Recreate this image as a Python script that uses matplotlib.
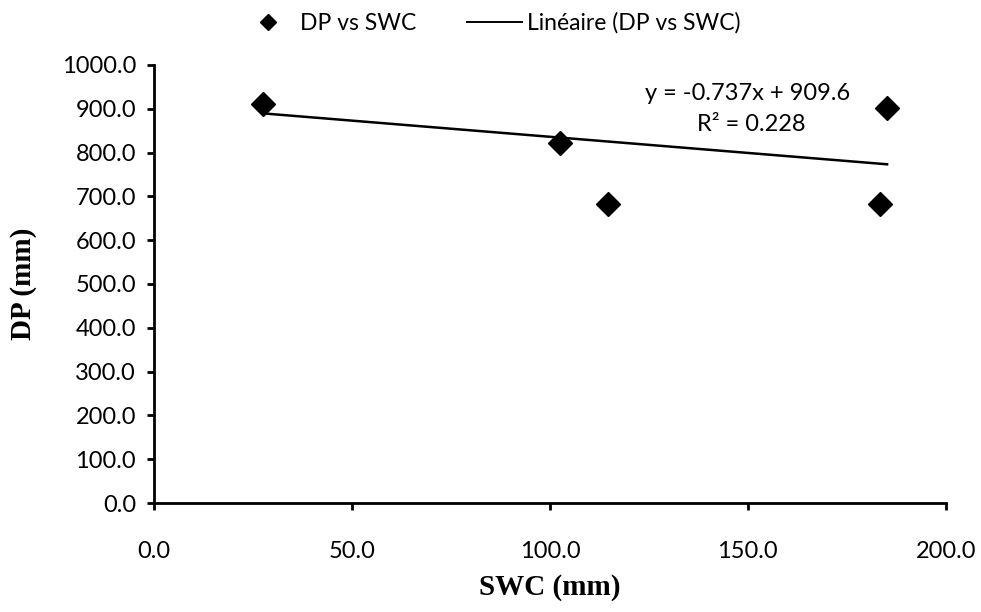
import numpy as np
import matplotlib.pyplot as plt
from matplotlib.lines import Line2D

# SWC vs DP observations
swc_mm = [27.5, 102.5, 114.6, 185.2, 183.5]
dp_mm = [911.0, 822.0, 683.0, 902.0, 683.0]

# linear trend as reported
slope = -0.737
intercept = 909.6
r2 = 0.228

x_ticks = [0, 50, 100, 150, 200]
y_ticks = [0, 100, 200, 300, 400, 500, 600, 700, 800, 900, 1000]

sans = ["Lato", "DejaVu Sans"]
serif = ["Liberation Serif", "DejaVu Serif"]

fig = plt.figure(figsize=(9.81, 6.12), dpi=100)
ax = fig.add_axes([0.157, 0.178, 0.807, 0.716])

ax.plot(swc_mm, dp_mm, linestyle="none", marker="D", markersize=12,
        color="black", zorder=3)

xs = np.array([min(swc_mm), max(swc_mm)])
ax.plot(xs, slope * xs + intercept, color="black", linewidth=1.8, zorder=2)

ax.set_xlim(0, 200)
ax.set_ylim(0, 1000)
ax.set_xticks(x_ticks)
ax.set_yticks(y_ticks)
ax.set_xticklabels([f"{v:.1f}" for v in x_ticks], fontfamily=sans, fontsize=17)
ax.set_yticklabels([f"{v:.1f}" for v in y_ticks], fontfamily=sans, fontsize=17)

for side in ("top", "right"):
    ax.spines[side].set_visible(False)
for side in ("left", "bottom"):
    ax.spines[side].set_linewidth(2)
ax.tick_params(axis="y", direction="out", length=5, width=2, pad=8)
ax.tick_params(axis="x", direction="out", length=5, width=2, pad=22)

ax.set_xlabel("SWC (mm)", fontfamily=serif, fontweight="bold", fontsize=21,
              labelpad=9)
ax.set_ylabel("DP (mm)", fontfamily=serif, fontweight="bold", fontsize=21,
              labelpad=18)

ax.text(0.75, 0.935, f"y = {slope}x + {intercept}", transform=ax.transAxes,
        ha="center", va="center", fontfamily=sans, fontsize=17)
ax.text(0.755, 0.865, f"R² = {r2}", transform=ax.transAxes,
        ha="center", va="center", fontfamily=sans, fontsize=17)

handles = [
    Line2D([], [], linestyle="none", marker="D", markersize=8, color="black"),
    Line2D([], [], color="black", linewidth=1.4),
]
fig.legend(handles, ["DP vs SWC", "Linéaire (DP vs SWC)"],
           loc="center", bbox_to_anchor=(0.5, 0.962), ncol=2, frameon=False,
           prop={"family": sans, "size": 16.5},
           handlelength=2.4, handletextpad=0.2, columnspacing=2.2)

fig.savefig("out.png", dpi=100)
